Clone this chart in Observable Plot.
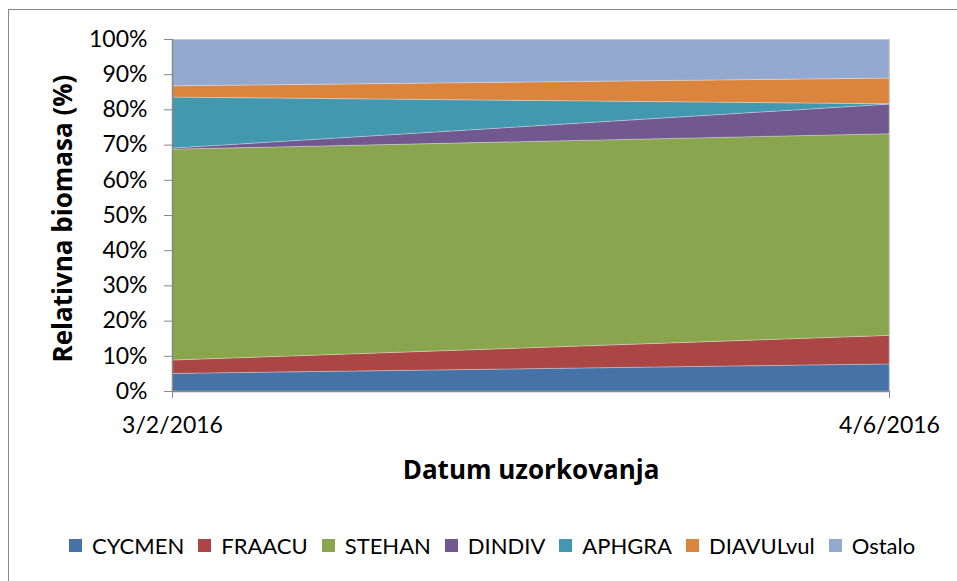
<!DOCTYPE html>
<html>
<head>
<meta charset="utf-8">
<script src="https://cdn.jsdelivr.net/npm/d3@7"></script>
<script src="https://cdn.jsdelivr.net/npm/@observablehq/plot@0.6"></script>
<style>
  html, body { margin: 0; padding: 0; background: #fff; }
  #wrap { position: relative; width: 957px; height: 581px; overflow: hidden; font-family: Lato, sans-serif; }
  #border { position: absolute; left: 8px; top: 9px; width: 1000px; height: 1000px; border-left: 1px solid #888; border-top: 1px solid #888; box-sizing: border-box; }
  #chart { position: absolute; left: 0; top: 0; }
  #legend { position: absolute; left: 69px; top: 532px; display: flex; align-items: center; font-size: 22px; color: #000; white-space: nowrap; }
  #legend .item { display: flex; align-items: center; margin-right: 14px; }
  #legend .sw { width: 13px; height: 13px; margin-right: 10px; }
</style>
</head>
<body>
<div id="wrap">
  <div id="border"></div>
  <div id="chart"></div>
  <div id="legend"></div>
</div>
<script>
// Data
const dates = ["2016-03-02", "2016-04-06"];
const dateLabels = ["3/2/2016", "4/6/2016"];
const species = ["CYCMEN", "FRAACU", "STEHAN", "DINDIV", "APHGRA", "DIAVULvul", "Ostalo"];
const CYCMEN    = [5.0, 7.7];
const FRAACU    = [3.8, 8.1];
const STEHAN    = [59.9, 57.3];
const DINDIV    = [0.3, 8.4];
const APHGRA    = [14.5, 0.1];
const DIAVULvul = [3.2, 7.3];
const Ostalo    = [13.3, 11.1];
const colors = ["#4572A7", "#AA4643", "#89A54E", "#71588F", "#4198AF", "#DB843D", "#93A9CF"];
const yTicks = [0, 10, 20, 30, 40, 50, 60, 70, 80, 90, 100];

const seriesValues = {CYCMEN, FRAACU, STEHAN, DINDIV, APHGRA, DIAVULvul, Ostalo};
const dateObjs = dates.map(d => new Date(d + "T00:00:00Z"));
const table = [];
species.forEach(s => {
  seriesValues[s].forEach((v, i) => table.push({species: s, date: dateObjs[i], value: v}));
});

const labelOf = d => dateLabels[dateObjs.findIndex(x => +x === +d)];

const chart = Plot.plot({
  width: 957,
  height: 520,
  marginLeft: 172,
  marginRight: 68,
  marginTop: 39,
  marginBottom: 129,
  style: {fontFamily: "Lato, sans-serif", fontSize: "23px", color: "#000", background: "transparent"},
  x: {type: "utc", domain: dateObjs},
  y: {domain: [0, 100]},
  color: {domain: species, range: colors},
  marks: [
    Plot.areaY(table, Plot.stackY({x: "date", y: "value", z: "species", fill: "species", order: species,
      stroke: "#ffffff", strokeOpacity: 0.35, strokeWidth: 0.8})),
    Plot.frame({stroke: "#c8c8c8", strokeWidth: 1}),
    Plot.axisY({ticks: yTicks, tickFormat: d => d + "%", tickSize: 8, tickPadding: 17, stroke: "#888", label: null, fontSize: 23}),
    Plot.axisX({ticks: dateObjs, tickFormat: labelOf, tickSize: 7, tickPadding: 18, stroke: "#888", label: null, fontSize: 23}),
    Plot.ruleX([dateObjs[0]], {stroke: "#888", strokeWidth: 1.5}),
    Plot.ruleY([0], {stroke: "#888", strokeWidth: 1.5}),
    Plot.text(["Relativna biomasa (%)"], {frameAnchor: "left", dx: -109, dy: 3, rotate: -90, fontWeight: "bold", fontSize: 26, fontFamily: "Open Sans, sans-serif", textAnchor: "middle", lineAnchor: "middle", fill: "#000"}),
    Plot.text(["Datum uzorkovanja"], {frameAnchor: "bottom", dy: 79, fontWeight: "bold", fontSize: 26, fontFamily: "Open Sans, sans-serif", textAnchor: "middle", lineAnchor: "middle", fill: "#000"})
  ]
});
document.getElementById("chart").appendChild(chart);

const legend = document.getElementById("legend");
species.forEach((s, i) => {
  const item = document.createElement("div");
  item.className = "item";
  const sw = document.createElement("span");
  sw.className = "sw";
  sw.style.background = colors[i];
  const t = document.createElement("span");
  t.textContent = s;
  item.appendChild(sw);
  item.appendChild(t);
  legend.appendChild(item);
});
</script>
</body>
</html>
